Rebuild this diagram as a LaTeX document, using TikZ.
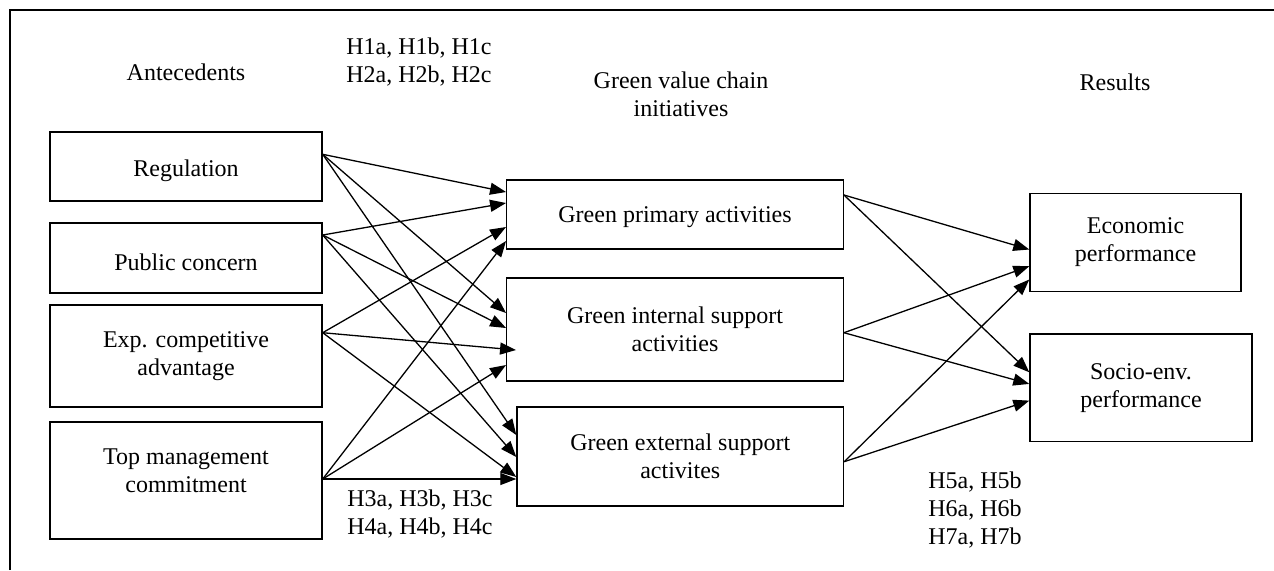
\documentclass[tikz,border=0pt]{standalone}
\usepackage{fontspec}
\setmainfont{Liberation Serif}
\usetikzlibrary{arrows.meta}
\tikzset{
  box/.style={draw, line width=0.7pt, inner sep=0pt, align=center,
    font=\fontsize{12}{14}\selectfont},
  lbl/.style={inner sep=0pt, font=\fontsize{12}{14}\selectfont},
}
\begin{document}
\begin{tikzpicture}[x=0.5pt,y=-0.5pt]
  \useasboundingbox (0,0) rectangle (1274,570);
  \draw[line width=0.7pt] (10,570) -- (10,10) -- (1274,10);
  \draw
    (186,72.7) node[lbl] (antec){Antecedents}
    (419,62) node[lbl, align=left] (hyp12){H1a, H1b, H1c\\H2a, H2b, H2c}
    (681,94) node[lbl, align=center] (gvc){Green value chain\\initiatives}
    (1115,82.7) node[lbl] (res){Results}
    (420,514.5) node[lbl, align=left] (hyp34){H3a, H3b, H3c\\H4a, H4b, H4c}
    (975,510) node[lbl, align=left] (hyp57){H5a, H5b\\H6a, H6b\\H7a, H7b};
  \draw
    (186,166.5) node[box, minimum width=136pt, minimum height=34.5pt, text height=13pt] (reg){Regulation}
    (186,258) node[box, minimum width=136pt, minimum height=35pt, text height=13pt] (pub){Public concern}
    (186,356) node[box, minimum width=136pt, minimum height=51pt] (exp){Exp. competitive\\advantage}
    (186,480.5) node[box, minimum width=136pt, minimum height=58.5pt, text depth=10pt] (top){Top management\\commitment}
    (675,214.5) node[box, minimum width=168.25pt, minimum height=34.5pt, text height=11pt] (prim){Green primary activities}
    (675,329.5) node[box, minimum width=168.25pt, minimum height=51.5pt] (intl){Green internal support\\activities}
    (680.25,456.5) node[box, minimum width=163.25pt, minimum height=49.5pt] (extl){Green external support\\activites}
    (1135.5,242.5) node[box, minimum width=105.5pt, minimum height=49.2pt] (econ){Economic\\performance}
    (1141,387.6) node[box, minimum width=111pt, minimum height=53.6pt] (socio){Socio-env.\\performance};
  \begin{scope}[line width=0.65pt, -{Triangle[length=8pt,width=6pt]}]
    \draw ([yshift=6.1pt]reg.east) to ([yshift=11.25pt]prim.west);
    \draw ([yshift=6.1pt]reg.east) to ([yshift=8.25pt]intl.west);
    \draw ([yshift=6.1pt]reg.east) to ([yshift=10.75pt]extl.west);
    \draw ([yshift=11.5pt]pub.east) to ([yshift=5.75pt]prim.west);
    \draw ([yshift=11.5pt]pub.east) to ([yshift=0.75pt]intl.west);
    \draw ([yshift=11.5pt]pub.east) to ([yshift=-0.25pt]extl.west);
    \draw ([yshift=11.65pt]exp.east) to ([yshift=-6.25pt]prim.west);
    \draw ([yshift=11.65pt]exp.east) to ([xshift=5pt,yshift=-10.25pt]intl.west);
    \draw ([yshift=11.65pt]exp.east) to ([yshift=-10.25pt]extl.west);
    \draw ([yshift=0.75pt]top.east) to ([yshift=-13.25pt]prim.west);
    \draw ([yshift=0.75pt]top.east) to ([yshift=-17.75pt]intl.west);
    \draw ([yshift=0.75pt]top.east) to ([yshift=-11.25pt]extl.west);
    \draw ([yshift=9.75pt]prim.east) to ([yshift=-3.5pt]econ.west);
    \draw ([yshift=9.75pt]prim.east) to ([yshift=7.65pt]socio.west);
    \draw ([yshift=-1.6pt]intl.east) to ([yshift=-11.85pt]econ.west);
    \draw ([yshift=-1.6pt]intl.east) to ([yshift=1.85pt]socio.west);
    \draw ([yshift=-2.6pt]extl.east) to ([yshift=-18.5pt]econ.west);
    \draw ([yshift=-2.6pt]extl.east) to ([yshift=-6.5pt]socio.west);
  \end{scope}
\end{tikzpicture}
\end{document}
